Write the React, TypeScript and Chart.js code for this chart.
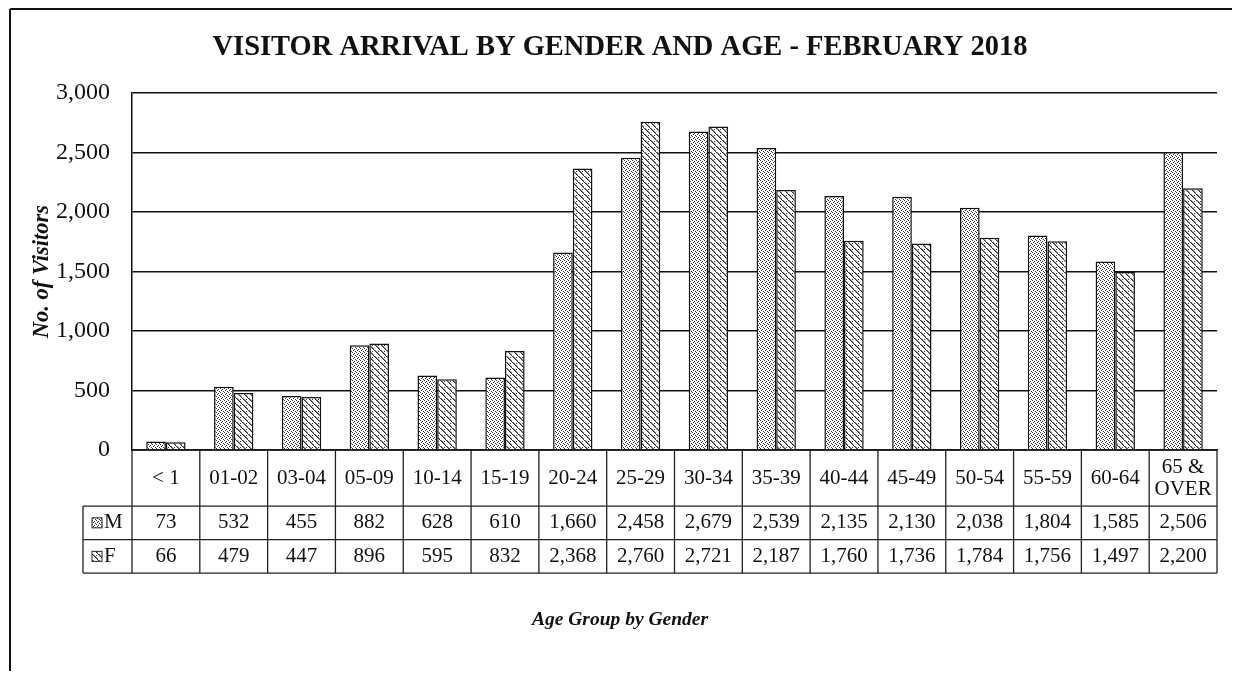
import React, { useEffect, useRef } from "react";
import { Chart, registerables } from "chart.js";

Chart.register(...registerables);

const categories = ["< 1", "01-02", "03-04", "05-09", "10-14", "15-19", "20-24", "25-29", "30-34", "35-39", "40-44", "45-49", "50-54", "55-59", "60-64", "65 &\nOVER"];
const maleValues = [73, 532, 455, 882, 628, 610, 1660, 2458, 2679, 2539, 2135, 2130, 2038, 1804, 1585, 2506];
const femaleValues = [66, 479, 447, 896, 595, 832, 2368, 2760, 2721, 2187, 1760, 1736, 1784, 1756, 1497, 2200];
const seriesNames = ["M", "F"];
const yTicks = [0, 500, 1000, 1500, 2000, 2500, 3000];
const titleText = "VISITOR ARRIVAL BY GENDER AND AGE - FEBRUARY 2018";
const yTitle = "No. of Visitors";
const xTitle = "Age Group by Gender";

const SERIF = "'Liberation Serif', 'Times New Roman', serif";

function makePattern(kind: string): CanvasPattern | string {
  const c = document.createElement("canvas");
  const size = kind === "dots" ? 4 : 6;
  c.width = size;
  c.height = size;
  const g = c.getContext("2d");
  if (!g) return "#bbb";
  g.fillStyle = "#fff";
  g.fillRect(0, 0, size, size);
  g.fillStyle = "#333";
  if (kind === "dots") {
    g.fillRect(0, 0, 1, 1);
    g.fillRect(2, 1, 1, 1);
    g.fillRect(1, 2, 1, 1);
    g.fillRect(3, 3, 1, 1);
  } else {
    for (let i = 0; i < size; i++) {
      g.fillRect(i, i, 1.6, 1);
    }
    g.fillRect(4, 1, 1, 1);
  }
  const p = g.createPattern(c, "repeat");
  return p || "#bbb";
}

const fmt = (v: number) => v.toLocaleString("en-US");

const frameAndTable = {
  id: "frameAndTable",
  afterDraw(chart: any) {
    const ctx = chart.ctx as CanvasRenderingContext2D;
    const area = chart.chartArea;
    const xs = chart.scales.x;
    const n = categories.length;
    const headerH = 56;
    const rowH = 33.5;
    const top = area.bottom;
    const r1 = top + headerH;
    const r2 = r1 + rowH;
    const r3 = r2 + rowH;
    const legLeft = area.left - 49;

    ctx.save();
    // outer frame (left and top)
    ctx.strokeStyle = "#111";
    ctx.lineWidth = 2;
    ctx.beginPath();
    ctx.moveTo(2, 1);
    ctx.lineTo(chart.width, 1);
    ctx.moveTo(2, 1);
    ctx.lineTo(2, chart.height);
    ctx.stroke();

    // table lines
    ctx.strokeStyle = "#222";
    ctx.lineWidth = 1.3;
    ctx.beginPath();
    ctx.moveTo(area.left, top);
    ctx.lineTo(area.right, top);
    ctx.moveTo(legLeft, r1);
    ctx.lineTo(area.right, r1);
    ctx.moveTo(legLeft, r2);
    ctx.lineTo(area.right, r2);
    ctx.moveTo(legLeft, r3);
    ctx.lineTo(area.right, r3);
    ctx.moveTo(legLeft, r1);
    ctx.lineTo(legLeft, r3);
    for (let i = 0; i <= n; i++) {
      const px = xs.getPixelForValue(i - 0.5);
      ctx.moveTo(px, top);
      ctx.lineTo(px, r3);
    }
    ctx.stroke();

    // text
    ctx.fillStyle = "#111";
    ctx.font = `21px ${SERIF}`;
    ctx.textAlign = "center";
    ctx.textBaseline = "middle";
    for (let i = 0; i < n; i++) {
      const cx = xs.getPixelForValue(i);
      const lines = categories[i].split("\n");
      const lh = 22;
      const cy = (top + r1) / 2 - ((lines.length - 1) * lh) / 2;
      lines.forEach((ln, k) => ctx.fillText(ln, cx, cy + k * lh));
      ctx.fillText(fmt(maleValues[i]), cx, (r1 + r2) / 2);
      ctx.fillText(fmt(femaleValues[i]), cx, (r2 + r3) / 2);
    }

    // legend keys
    const ds = chart.data.datasets;
    const rows = [(r1 + r2) / 2, (r2 + r3) / 2];
    rows.forEach((cy, k) => {
      const kx = legLeft + 9;
      ctx.fillStyle = ds[k].backgroundColor;
      ctx.fillRect(kx, cy - 5, 10, 10);
      ctx.strokeStyle = "#222";
      ctx.lineWidth = 1;
      ctx.strokeRect(kx, cy - 5, 10, 10);
      ctx.fillStyle = "#111";
      ctx.textAlign = "left";
      ctx.fillText(seriesNames[k], kx + 12, cy);
    });
    ctx.restore();
  },
};

export default function App() {
  const ref = useRef<HTMLCanvasElement | null>(null);

  useEffect(() => {
    if (!ref.current) return;
    const dotPat = makePattern("dots");
    const hatchPat = makePattern("hatch");
    const chart = new Chart(ref.current, {
      type: "bar",
      data: {
        labels: categories,
        datasets: [
          {
            label: seriesNames[0],
            data: maleValues,
            backgroundColor: dotPat as any,
            borderColor: "#111",
            borderWidth: 1.5,
            categoryPercentage: 0.58,
            barPercentage: 1,
          },
          {
            label: seriesNames[1],
            data: femaleValues,
            backgroundColor: hatchPat as any,
            borderColor: "#111",
            borderWidth: 1.5,
            categoryPercentage: 0.58,
            barPercentage: 1,
          },
        ],
      },
      options: {
        animation: false,
        responsive: false,
        maintainAspectRatio: false,
        layout: { padding: { left: 15, right: 15, top: 0, bottom: 0 } },
        plugins: {
          legend: { display: false },
          tooltip: { enabled: false },
          title: {
            display: true,
            text: titleText,
            color: "#111",
            font: { family: SERIF, size: 28.5, weight: "bold" },
            padding: { top: 23, bottom: 28 },
          },
          subtitle: {
            display: true,
            position: "bottom",
            text: xTitle,
            color: "#111",
            font: { family: SERIF, size: 19.5, weight: "bold", style: "italic" },
            padding: { top: 0, bottom: 39 },
          },
        },
        scales: {
          x: {
            grid: { display: false, drawTicks: false },
            border: { display: true, color: "#111", width: 1.5 },
            ticks: { display: false },
            afterFit: (s: any) => {
              s.height = 158.5;
            },
          },
          y: {
            min: 0,
            max: 3000,
            afterBuildTicks: (s: any) => {
              s.ticks = yTicks.map((v) => ({ value: v }));
            },
            afterFit: (s: any) => {
              s.width = 109;
            },
            grid: { color: "#111", lineWidth: 1.5, drawTicks: false },
            border: { display: true, color: "#111", width: 1.5 },
            ticks: {
              color: "#111",
              padding: 22,
              font: { family: SERIF, size: 24 },
              callback: (v: any) => fmt(Number(v)),
            },
            title: {
              display: true,
              text: yTitle,
              color: "#111",
              font: { family: SERIF, size: 22.5, weight: "bold", style: "italic" },
              padding: { top: 6, bottom: 0 },
            },
          },
        },
      },
      plugins: [frameAndTable],
    });
    return () => chart.destroy();
  }, []);

  return (
    <div style={{ width: 1224, height: 663 }}>
      <canvas ref={ref} width={1224} height={663} style={{ display: "block" }} />
    </div>
  );
}
